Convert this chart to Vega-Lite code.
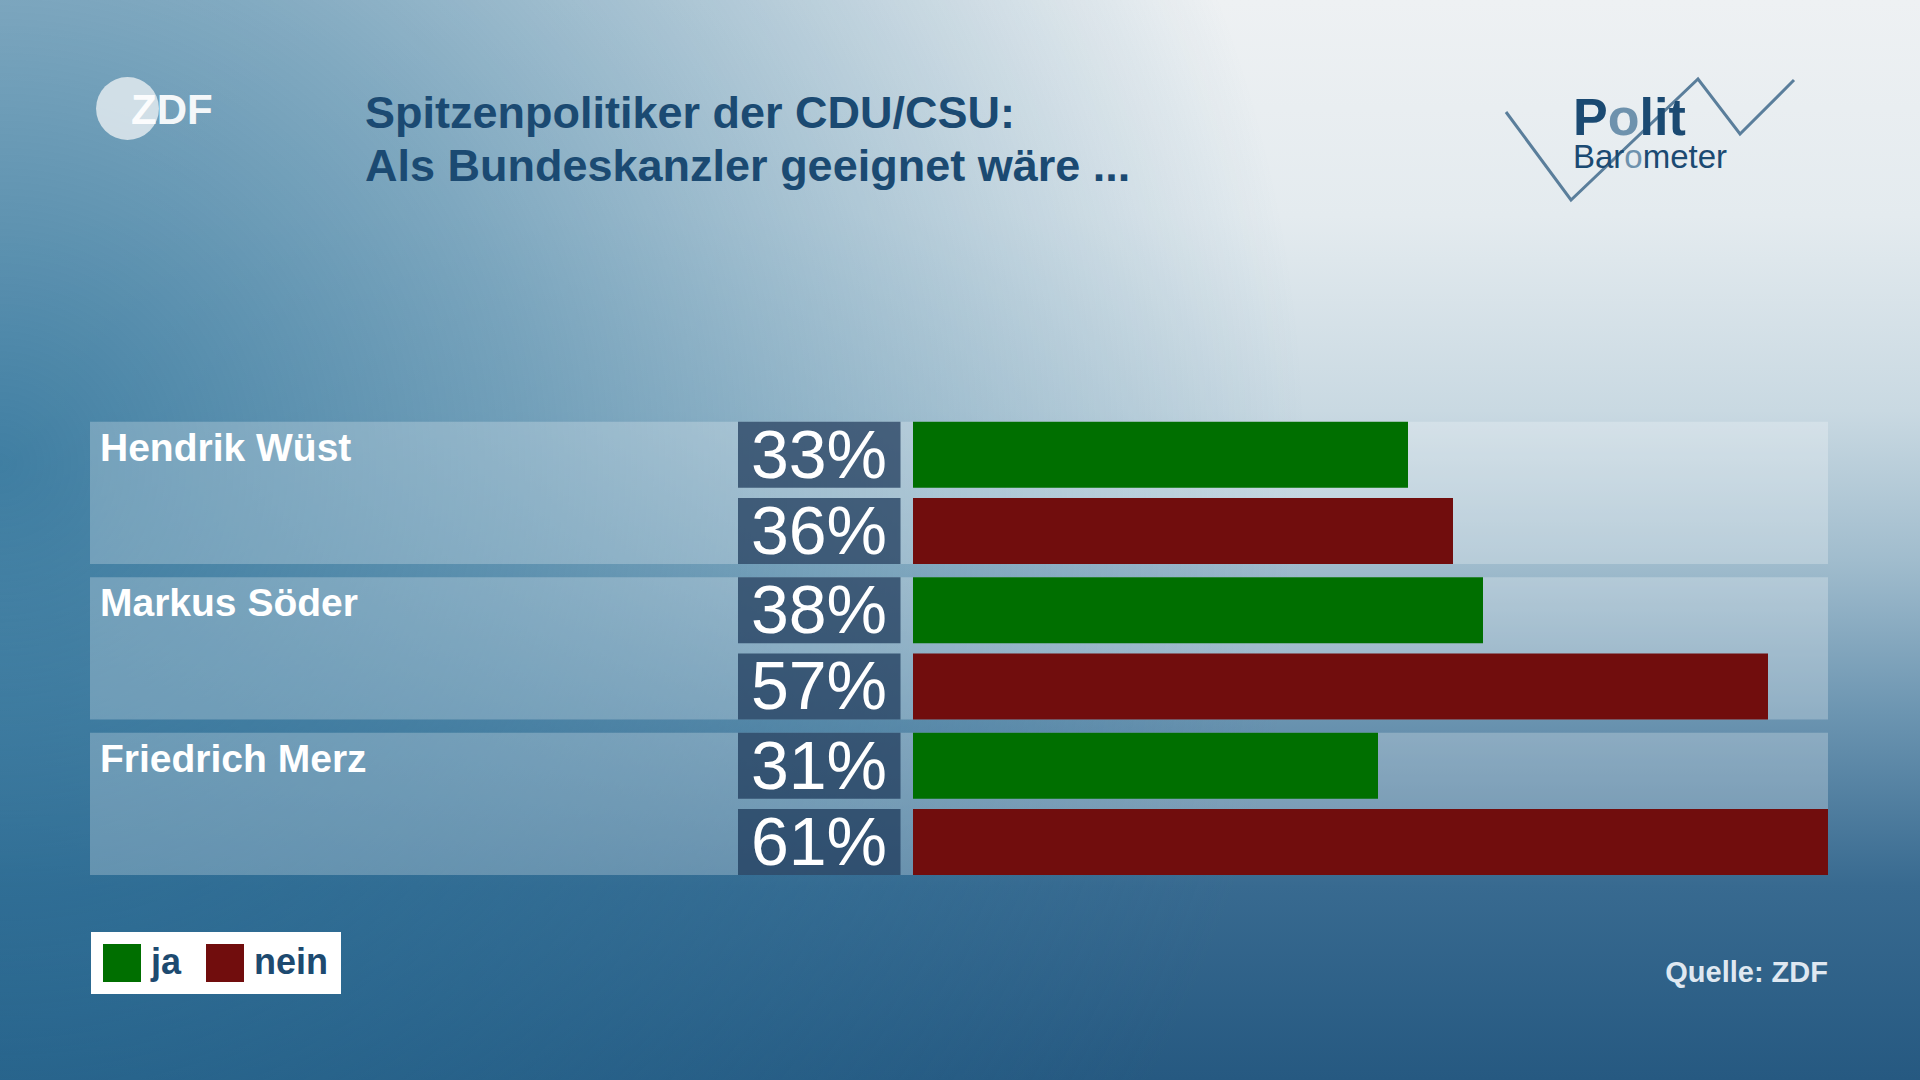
{
  "$schema": "https://vega.github.io/schema/vega-lite/v6.json",
  "width": 1920,
  "height": 1080,
  "autosize": {"type": "fit", "contains": "padding"},
  "padding": 0,
  "background": "#2a5d84",
  "config": {"view": {"stroke": null}, "axis": {"disable": true}, "font": "Liberation Sans"},
  "data": {"values": [
    {"candidate": "Hendrik Wüst", "answer": "ja", "value": 33},
    {"candidate": "Hendrik Wüst", "answer": "nein", "value": 36},
    {"candidate": "Markus Söder", "answer": "ja", "value": 38},
    {"candidate": "Markus Söder", "answer": "nein", "value": 57},
    {"candidate": "Friedrich Merz", "answer": "ja", "value": 31},
    {"candidate": "Friedrich Merz", "answer": "nein", "value": 61}
  ]},
  "resolve": {"scale": {"x": "independent", "y": "independent", "color": "independent"}},
  "layer": [
    {
      "data": {"values": [{}]},
      "layer": [
        {
          "mark": {"type": "rect", "color": {"gradient": "linear", "x1": 0, "y1": 0, "x2": 0, "y2": 1, "stops": [
            {"offset": 0, "color": "#eef1f3"},
            {"offset": 0.2, "color": "#e4ebef"},
            {"offset": 0.38, "color": "#c9d9e2"},
            {"offset": 0.52, "color": "#a0bccd"},
            {"offset": 0.66, "color": "#6c95b1"},
            {"offset": 0.82, "color": "#386a90"},
            {"offset": 1, "color": "#265981"}
          ]}},
          "encoding": {
            "x": {"datum": 0, "type": "quantitative", "scale": {"domain": [0, 1920], "nice": false, "zero": false}},
            "x2": {"datum": 1920},
            "y": {"datum": 0, "type": "quantitative", "scale": {"domain": [0, 1080], "nice": false, "zero": false, "reverse": true}},
            "y2": {"datum": 1080}
          }
        },
        {
          "mark": {"type": "rect", "color": {"gradient": "radial", "x1": 0, "y1": 0.46, "r1": 0, "x2": 0, "y2": 0.46, "r2": 0.68, "stops": [
            {"offset": 0, "color": "rgba(42,112,152,0.85)"},
            {"offset": 0.4, "color": "rgba(42,112,152,0.55)"},
            {"offset": 1, "color": "rgba(42,112,152,0)"}
          ]}},
          "encoding": {
            "x": {"datum": 0, "type": "quantitative", "scale": {"domain": [0, 1920], "nice": false, "zero": false}},
            "x2": {"datum": 1920},
            "y": {"datum": 0, "type": "quantitative", "scale": {"domain": [0, 1080], "nice": false, "zero": false, "reverse": true}},
            "y2": {"datum": 1080}
          }
        }
      ]
    },
    {
      "transform": [{"calculate": "datum.value + '%'", "as": "label"}],
      "layer": [
        {
          "transform": [{"filter": "datum.answer == 'ja'"}],
          "mark": {"type": "bar", "color": "white", "opacity": 0.25},
          "encoding": {
            "x": {"datum": -54.8667, "type": "quantitative", "scale": {"domain": [-60.8667, 67.1333], "nice": false, "zero": false}},
            "x2": {"datum": 61},
            "y": {"field": "candidate", "type": "nominal", "sort": ["Hendrik Wüst", "Markus Söder", "Friedrich Merz"], "scale": {"range": [421.7, 875], "paddingInner": 0.085, "paddingOuter": 0}}
          }
        },
        {
          "transform": [{"filter": "datum.answer == 'ja'"}],
          "mark": {"type": "text", "align": "left", "baseline": "alphabetic", "dy": 39, "fontSize": 39, "fontWeight": "bold", "color": "white"},
          "encoding": {
            "x": {"datum": -54.2, "type": "quantitative"},
            "y": {"field": "candidate", "type": "nominal", "bandPosition": 0, "sort": ["Hendrik Wüst", "Markus Söder", "Friedrich Merz"]},
            "text": {"field": "candidate"}
          }
        },
        {
          "mark": {"type": "bar", "color": "#1b3657", "opacity": 0.72},
          "encoding": {
            "x": {"datum": -11.6667, "type": "quantitative"},
            "x2": {"datum": -0.8333},
            "y": {"field": "candidate", "type": "nominal", "sort": ["Hendrik Wüst", "Markus Söder", "Friedrich Merz"]},
            "yOffset": {"field": "answer", "type": "nominal", "sort": ["ja", "nein"], "scale": {"paddingInner": 0.135, "paddingOuter": 0}}
          }
        },
        {
          "mark": {"type": "bar", "opacity": 1},
          "encoding": {
            "x": {"field": "value", "type": "quantitative"},
            "x2": {"datum": 0},
            "y": {"field": "candidate", "type": "nominal", "sort": ["Hendrik Wüst", "Markus Söder", "Friedrich Merz"]},
            "yOffset": {"field": "answer", "type": "nominal", "sort": ["ja", "nein"]},
            "color": {"field": "answer", "type": "nominal", "scale": {"domain": ["ja", "nein"], "range": ["#006f00", "#710d0d"]},
              "legend": {"orient": "none", "legendX": 91, "legendY": 932, "direction": "horizontal", "title": null, "fillColor": "white", "padding": 12, "symbolType": "square", "symbolSize": 1444, "symbolStrokeWidth": 0, "symbolOpacity": 1, "labelFont": "Liberation Sans", "labelFontSize": 36, "labelFontWeight": "bold", "labelColor": "#1d4a70", "labelOffset": 10, "columnPadding": 24, "gridAlign": "none"}}
          }
        },
        {
          "mark": {"type": "text", "align": "center", "baseline": "alphabetic", "dy": 23, "fontSize": 68, "color": "white"},
          "encoding": {
            "x": {"datum": -6.2667, "type": "quantitative"},
            "y": {"field": "candidate", "type": "nominal", "sort": ["Hendrik Wüst", "Markus Söder", "Friedrich Merz"]},
            "yOffset": {"field": "answer", "type": "nominal", "sort": ["ja", "nein"]},
            "text": {"field": "label"}
          }
        }
      ]
    },
    {
      "data": {"values": [{}]},
      "encoding": {
        "x": {"type": "quantitative", "scale": {"domain": [0, 1920], "nice": false, "zero": false}},
        "y": {"type": "quantitative", "scale": {"domain": [0, 1080], "nice": false, "zero": false, "reverse": true}}
      },
      "layer": [
        {
          "mark": {"type": "text", "align": "left", "baseline": "alphabetic", "fontSize": 45, "fontWeight": "bold", "color": "#1b4a72", "lineHeight": 53,
            "text": ["Spitzenpolitiker der CDU/CSU:", "Als Bundeskanzler geeignet wäre ..."]},
          "encoding": {"x": {"datum": 365, "type": "quantitative"}, "y": {"datum": 128, "type": "quantitative"}}
        },
        {
          "mark": {"type": "point", "shape": "circle", "filled": true, "size": 3959, "color": "#e2eaef", "opacity": 0.85, "strokeWidth": 0},
          "encoding": {"x": {"datum": 127.5, "type": "quantitative"}, "y": {"datum": 108.5, "type": "quantitative"}}
        },
        {
          "mark": {"type": "text", "align": "left", "baseline": "alphabetic", "fontSize": 42, "fontWeight": "bold", "color": "white", "opacity": 0.92, "text": "ZDF"},
          "encoding": {"x": {"datum": 131, "type": "quantitative"}, "y": {"datum": 124, "type": "quantitative"}}
        },
        {
          "mark": {"type": "point", "shape": "M -1 -0.191 L -0.5486 0.42 L 0.3333 -0.42 L 0.625 -0.038 L 1 -0.413", "filled": false, "size": 82944, "stroke": "#5a7e9b", "strokeWidth": 3, "opacity": 1},
          "encoding": {"x": {"datum": 1650, "type": "quantitative"}, "y": {"datum": 139.5, "type": "quantitative"}}
        },
        {
          "mark": {"type": "text", "align": "left", "baseline": "alphabetic", "fontSize": 52, "fontWeight": "bold", "color": "#1b4a72", "text": "P"},
          "encoding": {"x": {"datum": 1573, "type": "quantitative"}, "y": {"datum": 135, "type": "quantitative"}}
        },
        {
          "mark": {"type": "text", "align": "left", "baseline": "alphabetic", "fontSize": 52, "fontWeight": "bold", "color": "#6e92ad", "text": "o"},
          "encoding": {"x": {"datum": 1607.7, "type": "quantitative"}, "y": {"datum": 135, "type": "quantitative"}}
        },
        {
          "mark": {"type": "text", "align": "left", "baseline": "alphabetic", "fontSize": 52, "fontWeight": "bold", "color": "#1b4a72", "text": "lit"},
          "encoding": {"x": {"datum": 1639.5, "type": "quantitative"}, "y": {"datum": 135, "type": "quantitative"}}
        },
        {
          "mark": {"type": "text", "align": "left", "baseline": "alphabetic", "fontSize": 33, "color": "#1b4a72", "text": "Bar"},
          "encoding": {"x": {"datum": 1573, "type": "quantitative"}, "y": {"datum": 168, "type": "quantitative"}}
        },
        {
          "mark": {"type": "text", "align": "left", "baseline": "alphabetic", "fontSize": 33, "color": "#6e92ad", "text": "o"},
          "encoding": {"x": {"datum": 1624.3, "type": "quantitative"}, "y": {"datum": 168, "type": "quantitative"}}
        },
        {
          "mark": {"type": "text", "align": "left", "baseline": "alphabetic", "fontSize": 33, "color": "#1b4a72", "text": "meter"},
          "encoding": {"x": {"datum": 1642.7, "type": "quantitative"}, "y": {"datum": 168, "type": "quantitative"}}
        },
        {
          "mark": {"type": "text", "align": "right", "baseline": "alphabetic", "fontSize": 29, "fontWeight": "bold", "color": "#dfe8f1", "text": "Quelle: ZDF"},
          "encoding": {"x": {"datum": 1828, "type": "quantitative"}, "y": {"datum": 982, "type": "quantitative"}}
        }
      ]
    }
  ]
}
